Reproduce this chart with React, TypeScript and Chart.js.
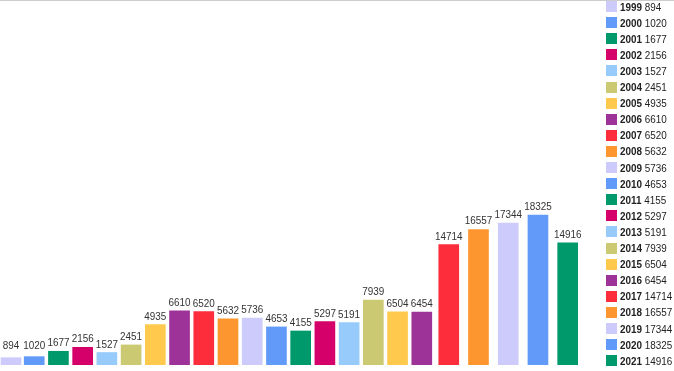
import React, { useEffect, useRef } from "react";
import { Chart, registerables } from "chart.js";

Chart.register(...registerables);

const years = ["1999","2000","2001","2002","2003","2004","2005","2006","2007","2008","2009","2010","2011","2012","2013","2014","2015","2016","2017","2018","2019","2020","2021"];
const values = [894,1020,1677,2156,1527,2451,4935,6610,6520,5632,5736,4653,4155,5297,5191,7939,6504,6454,14714,16557,17344,18325,14916];
const palette = ["#cccbfc","#619af8","#00996b","#d5006a","#97cbfb","#cbca72","#fec94c","#9d3398","#fd2d3b","#fd962e"];
const colors = years.map((_, i) => palette[i % palette.length]);

const FONT = "'Liberation Sans', Arial, sans-serif";
const LABEL_FONT = `11px ${FONT}`;
const SQUEEZE = 0.9;
const BAR_W = 20;
const GAP = 2.2;

// Bars are laid out so that their value labels never overlap (as in the original).
function layoutPositions(): number[] {
  const c = document.createElement("canvas").getContext("2d")!;
  c.font = LABEL_FONT;
  const widths = values.map((v) => Math.max(BAR_W, c.measureText(String(v)).width * SQUEEZE));
  const pos: number[] = [0];
  for (let i = 1; i < widths.length; i++) {
    pos.push(pos[i - 1] + (widths[i - 1] + widths[i]) / 2 + GAP);
  }
  return pos;
}

const labelPlugin = {
  id: "valueLabels",
  afterDatasetsDraw(chart: any) {
    const ctx = chart.ctx;
    const meta = chart.getDatasetMeta(0);
    ctx.save();
    ctx.font = LABEL_FONT;
    ctx.fillStyle = "#333";
    ctx.textAlign = "center";
    ctx.textBaseline = "alphabetic";
    meta.data.forEach((el: any, i: number) => {
      const y = Math.min(el.y - 5, el.base - 16);
      ctx.save();
      ctx.translate(el.x, y);
      ctx.scale(SQUEEZE, 1);
      ctx.fillText(String(values[i]), 0, 0);
      ctx.restore();
    });
    ctx.restore();
  },
};

export default function App() {
  const ref = useRef<HTMLCanvasElement>(null);
  useEffect(() => {
    if (!ref.current) return;
    const pos = layoutPositions();
    const areaWidth = 590;
    const xMin = -(BAR_W / 2 + 1);
    const chart = new Chart(ref.current, {
      type: "bar",
      data: {
        datasets: [{
          data: values.map((v, i) => ({ x: pos[i], y: v })),
          backgroundColor: colors,
          borderWidth: 0,
          barThickness: BAR_W,
        }],
      },
      options: {
        responsive: false,
        animation: false,
        layout: { padding: { left: 0, right: 674 - areaWidth, top: 0, bottom: 6 } },
        plugins: { legend: { display: false }, tooltip: { enabled: false } },
        scales: {
          x: { type: "linear", display: false, offset: false, grid: { offset: false }, min: xMin, max: xMin + areaWidth },
          y: { display: false, min: 0, max: 44590 },
        },
      },
      plugins: [labelPlugin],
    });
    return () => chart.destroy();
  }, []);

  return (
    <div style={{ position: "fixed", left: 0, top: 0, width: 674, height: 371, background: "#fff", overflow: "hidden" }}>
      <canvas ref={ref} width={674} height={371} style={{ position: "absolute", left: 0, top: 0 }} />
      <div style={{ position: "absolute", left: 0, top: 0, width: 674, height: 1, background: "#cccccc" }} />
      {years.map((y, i) => (
        <div key={y} style={{ position: "absolute", left: 606, top: 1 + i * 16.1, height: 11, display: "flex", alignItems: "center", whiteSpace: "nowrap" }}>
          <span style={{ display: "inline-block", width: 11, height: 11, background: colors[i], marginRight: 3 }} />
          <span style={{ display: "inline-block", transform: "scaleX(0.86)", transformOrigin: "left center", fontFamily: FONT, fontSize: 11.5, color: "#222" }}>
            <span style={{ fontWeight: "bold" }}>{y}</span> {values[i]}
          </span>
        </div>
      ))}
    </div>
  );
}
